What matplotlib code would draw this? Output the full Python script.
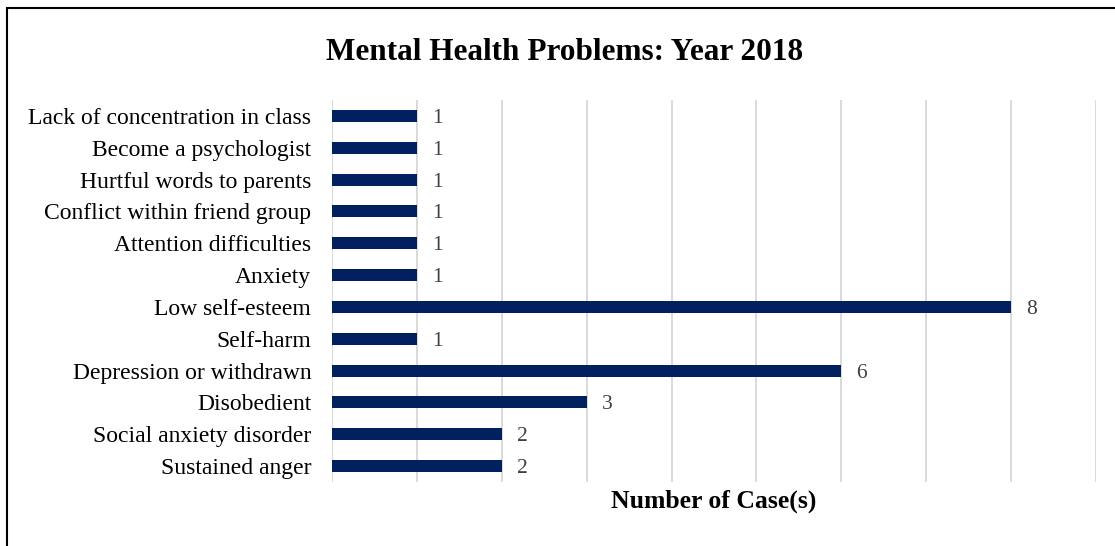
import matplotlib.pyplot as plt
from matplotlib.patches import Rectangle

plt.rcParams['font.family'] = ['Liberation Serif', 'DejaVu Serif']

# problems listed top to bottom
problems = ["Lack of concentration in class", "Become a psychologist",
            "Hurtful words to parents", "Conflict within friend group",
            "Attention difficulties", "Anxiety", "Low self-esteem",
            "Self-harm", "Depression or withdrawn", "Disobedient",
            "Social anxiety disorder", "Sustained anger"]
cases = [1, 1, 1, 1, 1, 1, 8, 1, 6, 3, 2, 2]

fig = plt.figure(figsize=(11.15, 5.46), dpi=100)
ax = fig.add_axes([332 / 1115, 1 - 482 / 546, (1096 - 332) / 1115, 382 / 546])

ypos = list(range(len(problems)))
ax.barh(ypos, cases, height=0.38, color="#002060", zorder=3)
for y, v in zip(ypos, cases):
    ax.text(v + 0.18, y, str(v), va="center_baseline", ha="left",
            fontsize=15.5, color="#404040")

ax.set_xlim(0, 9)
ax.set_ylim(len(problems) - 0.5, -0.5)
ax.set_yticks(ypos)
ax.set_yticklabels(problems, fontsize=17)
ax.set_xticks(range(10))
ax.set_xticklabels([])
ax.tick_params(length=0, pad=15)
ax.grid(axis="x", color="#d9d9d9", linewidth=1.4, zorder=0)
for s in ax.spines.values():
    s.set_visible(False)

fig.text(714 / 1115, 1 - 501 / 546, "Number of Case(s)", ha="center",
         va="center", fontsize=18.5, fontweight="bold")
fig.text(565 / 1115, 1 - 49 / 546, "Mental Health Problems: Year 2018",
         ha="center", va="center_baseline", fontsize=22.5, fontweight="bold")

# outer frame
fig.patches.append(Rectangle((7 / 1115, -0.02), 1.02, 1 - 8 / 546 + 0.02,
                             transform=fig.transFigure, fill=False,
                             edgecolor="black", linewidth=1.5))

fig.savefig("out.png", dpi=100)
